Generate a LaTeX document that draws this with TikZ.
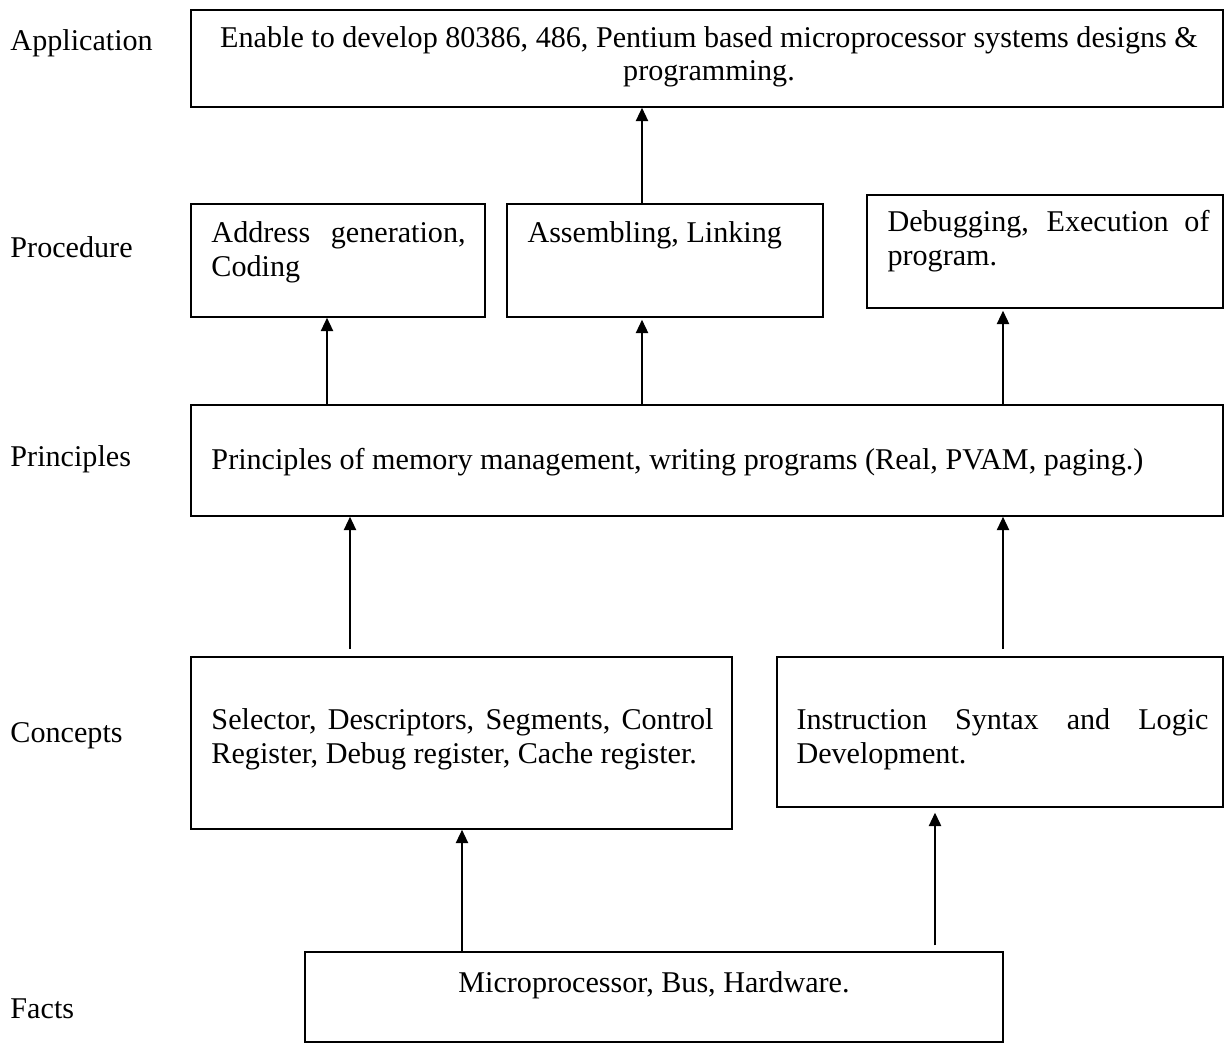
\documentclass[tikz,border=0pt]{standalone}
\usepackage{fontspec}
\setmainfont{Liberation Serif}
\usetikzlibrary{arrows.meta,fit}
\tikzset{
  box/.style={draw, line width=0.65pt, inner sep=0pt, rectangle},
  txt/.style={inner sep=0pt, anchor=base west, font=\fontsize{12.25}{14}\selectfont},
  ctxt/.style={inner sep=0pt, anchor=base, font=\fontsize{12.25}{14}\selectfont},
  arr/.style={-{Triangle[length=5.4pt,width=5pt]}, line width=0.5pt}
}
\begin{document}
\begin{tikzpicture}[x=0.4065pt,y=-0.4065pt]
\useasboundingbox (0,0) rectangle (1225,1043);
% level labels
\node[txt] (lapp) at (10,50) {Application};
\node[txt] (lproc) at (10,257) {Procedure};
\node[txt] (lprin) at (10,466) {Principles};
\node[txt] (lcon) at (10,742) {Concepts};
\node[txt] (lfac) at (10,1018) {Facts};
% boxes
\node[box, fit={(191,10) (1223,107)}] (app) {};
\node[box, fit={(191,204) (485,317)}] (p1) {};
\node[box, fit={(507,204) (823,317)}] (p2) {};
\node[box, fit={(867,195) (1223,308)}] (p3) {};
\node[box, fit={(191,405) (1223,516)}] (pr) {};
\node[box, fit={(191,657) (732,829)}] (c1) {};
\node[box, fit={(777,657) (1223,807)}] (c2) {};
\node[box, fit={(305,952) (1003,1042)}] (f) {};
% texts
\node[ctxt] (appA) at (709,47) {Enable to develop 80386, 486, Pentium based microprocessor systems designs \&};
\node[ctxt] (appB) at (709,80) {programming.};
\node[txt] (p1A) at (211,242) {\makebox[103.3pt][s]{Address generation,}};
\node[txt] (p1B) at (211,276) {Coding};
\node[txt] (p2A) at (527,242) {Assembling, Linking};
\node[txt] (p3A) at (887,231) {\makebox[130.9pt][s]{Debugging, Execution of}};
\node[txt] (p3B) at (887,265) {program.};
\node[txt] (prA) at (211,469) {Principles of memory management, writing programs (Real, PVAM, paging.)};
\node[txt] (c1A) at (211,729) {\makebox[204.1pt][s]{Selector, Descriptors, Segments, Control}};
\node[txt] (c1B) at (211,763) {Register, Debug register, Cache register.};
\node[txt] (c2A) at (796,729) {\makebox[167.5pt][s]{Instruction Syntax and Logic}};
\node[txt] (c2B) at (796,763) {Development.};
\node[ctxt] (fA) at (654,992) {Microprocessor, Bus, Hardware.};
% arrows
\draw[arr] (642,0 |- p2.north) -- (642,0 |- app.south);
\draw[arr] (327,0 |- pr.north) -- (327,0 |- p1.south);
\draw[arr, shorten >=0.8pt] (642,0 |- pr.north) -- (642,0 |- p2.south);
\draw[arr, shorten >=0.8pt] (1003,0 |- pr.north) -- (1003,0 |- p3.south);
\draw[arr, shorten <=2.85pt] (350,0 |- c1.north) -- (350,0 |- pr.south);
\draw[arr, shorten <=2.85pt] (1003,0 |- c2.north) -- (1003,0 |- pr.south);
\draw[arr] (462,0 |- f.north) -- (462,0 |- c1.south);
\draw[arr, shorten <=2.4pt, shorten >=2pt] (935,0 |- f.north) -- (935,0 |- c2.south);
\end{tikzpicture}
\end{document}
